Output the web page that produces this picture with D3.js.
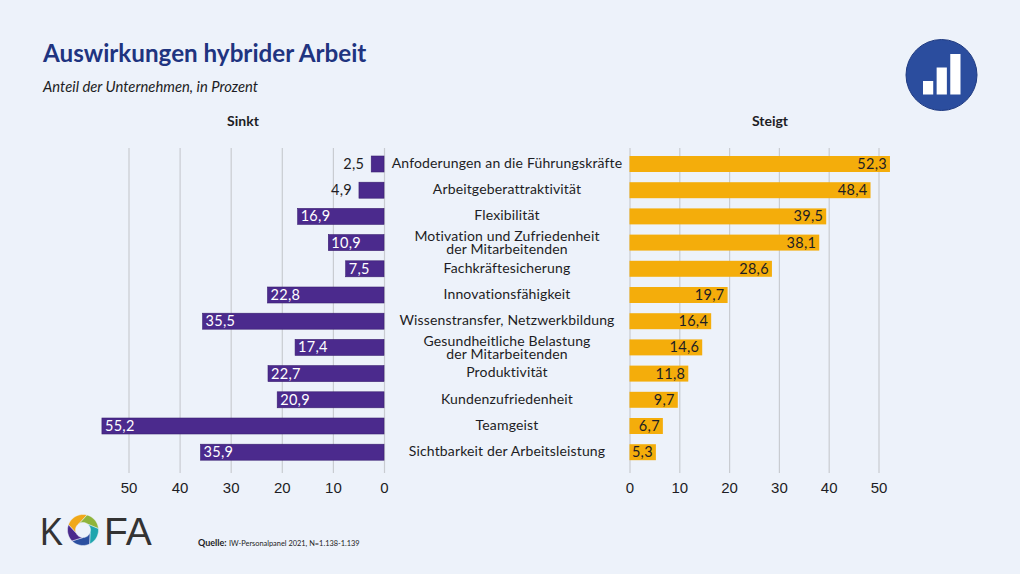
<!DOCTYPE html>
<html lang="de">
<head>
<meta charset="utf-8">
<title>Auswirkungen hybrider Arbeit</title>
<script src="https://cdn.jsdelivr.net/npm/d3@7"></script>
<style>
    html, body { margin: 0; padding: 0; background: #edf2fa; }
    svg { display: block; font-family: Lato, "Open Sans", sans-serif; }
</style>
</head>
<body>
<div id="chart"></div>
<script>
// Daten
const categories = [
    ["Anfoderungen an die Führungskräfte"],
    ["Arbeitgeberattraktivität"],
    ["Flexibilität"],
    ["Motivation und Zufriedenheit", "der Mitarbeitenden"],
    ["Fachkräftesicherung"],
    ["Innovationsfähigkeit"],
    ["Wissenstransfer, Netzwerkbildung"],
    ["Gesundheitliche Belastung", "der Mitarbeitenden"],
    ["Produktivität"],
    ["Kundenzufriedenheit"],
    ["Teamgeist"],
    ["Sichtbarkeit der Arbeitsleistung"]
];
const sinkt = [2.5, 4.9, 16.9, 10.9, 7.5, 22.8, 35.5, 17.4, 22.7, 20.9, 55.2, 35.9];
const steigt = [52.3, 48.4, 39.5, 38.1, 28.6, 19.7, 16.4, 14.6, 11.8, 9.7, 6.7, 5.3];
const ticks = [0, 10, 20, 30, 40, 50];
const iconBars = [1, 2, 3];
const logoBlades = [
    { start: -70, end: 15, color: "#f0a818" },
    { start: 15, end: 85, color: "#8fb43a" },
    { start: 85, end: 155, color: "#1fa5ae" },
    { start: 155, end: 225, color: "#2b4fa0" },
    { start: 225, end: 290, color: "#4b2a8c" }
];

const width = 1020;
const height = 574;
const textColor = "#1d1d24";
const fmt = v => String(v).replace(".", ",");

const svg = d3.select("#chart").append("svg")
    .attr("width", width)
    .attr("height", height);

svg.append("rect").attr("width", width).attr("height", height).attr("fill", "#edf2fa");

// Skalen
const xLeft = d3.scaleLinear().domain([0, 50]).range([384, 128.5]);
const xRight = d3.scaleLinear().domain([0, 50]).range([629.5, 878.5]);
const y = d3.scaleBand()
    .domain(d3.range(categories.length))
    .range([150.9, 465.3])
    .paddingInner(0.39)
    .paddingOuter(0.195);

// Überschriften
svg.append("text").attr("x", 43).attr("y", 62)
    .attr("font-size", 24.2).attr("font-weight", 700).attr("fill", "#1f3480")
    .text("Auswirkungen hybrider Arbeit");
svg.append("text").attr("x", 43).attr("y", 92)
    .attr("font-size", 14.8).attr("font-style", "italic").attr("fill", textColor)
    .text("Anteil der Unternehmen, in Prozent");
svg.append("text").attr("x", 243).attr("y", 126).attr("text-anchor", "middle")
    .attr("font-size", 14).attr("font-weight", 700).attr("fill", textColor).text("Sinkt");
svg.append("text").attr("x", 770).attr("y", 126).attr("text-anchor", "middle")
    .attr("font-size", 14).attr("font-weight", 700).attr("fill", textColor).text("Steigt");

// Achsen mit Gitterlinien
function drawAxis(scale) {
    const axis = svg.append("g")
        .attr("transform", "translate(0,473)")
        .call(d3.axisBottom(scale).tickValues(ticks).tickSize(0).tickPadding(9));
    axis.select(".domain").remove();
    axis.selectAll("text")
        .attr("font-family", "inherit")
        .attr("font-size", 15)
        .attr("fill", textColor);
    axis.selectAll(".tick").append("line")
        .attr("y1", -325)
        .attr("y2", 0)
        .attr("stroke", "#c9ccd1")
        .attr("stroke-width", 1.2);
}
drawAxis(xLeft);
drawAxis(xRight);

// Balken links
svg.append("g").selectAll("rect")
    .data(sinkt)
    .enter().append("rect")
    .attr("x", d => xLeft(d))
    .attr("y", (_, i) => y(i))
    .attr("width", d => xLeft(0) - xLeft(d))
    .attr("height", y.bandwidth())
    .attr("fill", "#4b2a8d")
    .attr("stroke", "#3a1f70")
    .attr("stroke-width", 0.6);

// Balken rechts
svg.append("g").selectAll("rect")
    .data(steigt)
    .enter().append("rect")
    .attr("x", xRight(0))
    .attr("y", (_, i) => y(i))
    .attr("width", d => xRight(d) - xRight(0))
    .attr("height", y.bandwidth())
    .attr("fill", "#f4ad0b");

// Werte links: kurze Balken außen, sonst innen am Balkenende
svg.append("g").selectAll("text")
    .data(sinkt)
    .enter().append("text")
    .attr("x", d => d < 5 ? xLeft(d) - 7 : xLeft(d) + 3)
    .attr("y", (_, i) => y(i) + y.bandwidth() / 2 + 5)
    .attr("text-anchor", d => d < 5 ? "end" : "start")
    .attr("font-size", 14.5)
    .attr("letter-spacing", 0.3)
    .attr("fill", d => d < 5 ? textColor : "#ffffff")
    .text(fmt);

// Werte rechts
svg.append("g").selectAll("text")
    .data(steigt)
    .enter().append("text")
    .attr("x", d => xRight(d) - 3)
    .attr("y", (_, i) => y(i) + y.bandwidth() / 2 + 5)
    .attr("text-anchor", "end")
    .attr("font-size", 14.5)
    .attr("letter-spacing", 0.3)
    .attr("fill", textColor)
    .text(fmt);

// Kategorien in der Mitte
const labels = svg.append("g").selectAll("text")
    .data(categories)
    .enter().append("text")
    .attr("text-anchor", "middle")
    .attr("font-size", 14)
    .attr("letter-spacing", 0.15)
    .attr("fill", textColor);
labels.each(function (lines, i) {
    const base = y(i) + y.bandwidth() / 2 + 3.8;
    lines.forEach((line, k) => {
        d3.select(this).append("tspan")
            .attr("x", 507)
            .attr("y", lines.length > 1 ? base - 5.5 + k * 13 : base)
            .text(line);
    });
});

// Symbol oben rechts
const icon = svg.append("g").attr("transform", "translate(941.5,75)");
icon.append("circle").attr("r", 35.5).attr("fill", "#2b4d9e").attr("stroke", "#1f3a80");
const iconX = d3.scaleBand().domain(iconBars).range([-18.5, 19]).paddingInner(0.25);
const iconY = d3.scaleLinear().domain([0, 3]).range([19.5, -21]);
icon.selectAll("rect")
    .data(iconBars)
    .enter().append("rect")
    .attr("x", d => iconX(d))
    .attr("y", d => iconY(d))
    .attr("width", iconX.bandwidth())
    .attr("height", d => iconY(0) - iconY(d))
    .attr("fill", "#ffffff");

// KOFA-Logo
const logo = svg.append("g").attr("font-size", 39).attr("fill", "#333333")
    .attr("font-family", "'Liberation Sans', sans-serif");
logo.append("text").attr("x", 40).attr("y", 545)
    .attr("textLength", 23).attr("lengthAdjust", "spacingAndGlyphs").text("K");
logo.append("text").attr("x", 104).attr("y", 545).text("FA");

// Ring aus gedrehten Segmenten
const twist = -45;
const polar = (r, deg) => {
    const a = deg * Math.PI / 180;
    return [r * Math.sin(a), -r * Math.cos(a)];
};
function bladePath(d) {
    const outer = d3.range(d.start, d.end + 1, 5).map(a => polar(15.5, a));
    const inner = d3.range(d.end + twist, d.start + twist - 1, -5).map(a => polar(7.5, a));
    return d3.line()(outer.concat(inner)) + "Z";
}
svg.append("g").attr("transform", "translate(83,530)")
    .selectAll("path")
    .data(logoBlades)
    .enter().append("path")
    .attr("d", bladePath)
    .attr("fill", d => d.color)
    .attr("stroke", "#edf2fa")
    .attr("stroke-width", 0.5);

// Quelle
const source = svg.append("text").attr("x", 198).attr("y", 546)
    .attr("font-size", 9).attr("fill", textColor);
source.append("tspan").attr("font-weight", 700).text("Quelle: ");
source.append("tspan").attr("font-size", 7.4).text("IW-Personalpanel 2021, N=1.138-1.139");
</script>
</body>
</html>
